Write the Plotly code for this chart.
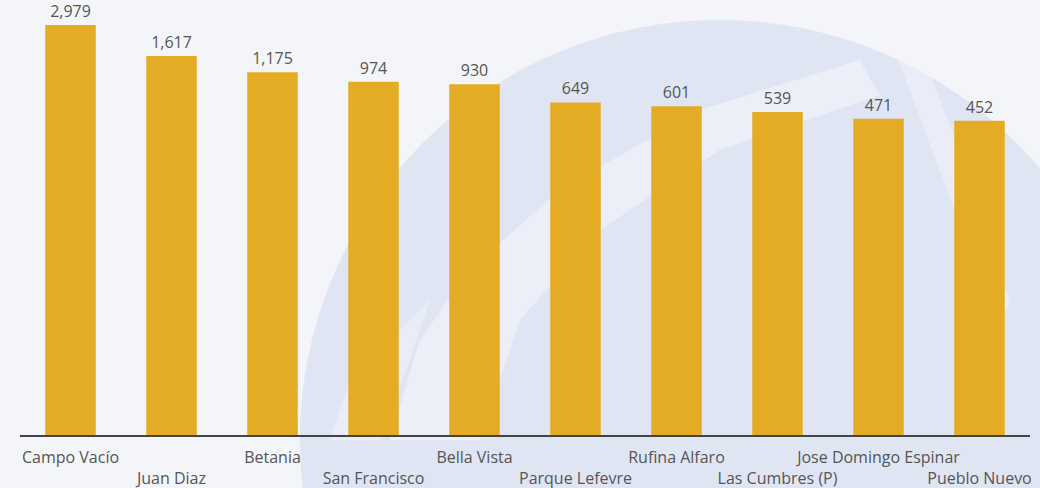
import plotly.graph_objects as go

categories = ["Campo Vacío", "Juan Diaz", "Betania", "San Francisco", "Bella Vista",
              "Parque Lefevre", "Rufina Alfaro", "Las Cumbres (P)", "Jose Domingo Espinar",
              "Pueblo Nuevo"]
values = [2979, 1617, 1175, 974, 930, 649, 601, 539, 471, 452]
value_labels = [f"{v:,}" for v in values]
tick_labels = [c if i % 2 == 0 else "<br>" + c for i, c in enumerate(categories)]

BAR = "#E4AB24"
TXT = "#555555"
FONT = "Open Sans, Noto Sans, sans-serif"

fig = go.Figure()
fig.add_trace(go.Bar(
    x=categories, y=values,
    marker=dict(color=BAR, line=dict(width=0)),
    text=value_labels, textposition="outside", cliponaxis=False,
    textfont=dict(size=16, color=TXT, family=FONT),
    hoverinfo="x+y",
))

# faint watermark-like background decoration (pixel -> paper helpers)
def px(x):
    return (x - 20) / 1010.5

def py(y):
    return (435 - y) / 435

def path(points):
    return "M " + " L ".join(f"{px(a):.4f},{py(b):.4f}" for a, b in points) + " Z"

shapes = [
    dict(type="circle", xref="paper", yref="paper", layer="below",
         x0=px(300), x1=px(1140), y0=py(860), y1=py(20),
         fillcolor="rgba(200,211,240,0.45)", line=dict(width=0)),
    dict(type="path", xref="paper", yref="paper", layer="below",
         path=path([(390, 440), (420, 340), (470, 270), (560, 190), (700, 110), (860, 60),
                    (880, 95), (720, 150), (600, 230), (520, 320), (480, 440)]),
         fillcolor="rgba(246,247,250,0.55)", line=dict(width=0)),
    dict(type="path", xref="paper", yref="paper", layer="below",
         path=path([(895, 50), (940, 170), (1000, 330), (1010, 300), (960, 150), (925, 60)]),
         fillcolor="rgba(246,247,250,0.45)", line=dict(width=0)),
    dict(type="path", xref="paper", yref="paper", layer="below",
         path=path([(330, 440), (350, 380), (400, 330), (430, 300), (410, 360), (380, 440)]),
         fillcolor="rgba(246,247,250,0.45)", line=dict(width=0)),
]

fig.update_layout(
    width=1040, height=488,
    margin=dict(l=20, r=10, t=0, b=53),
    paper_bgcolor="#f4f5f8",
    plot_bgcolor="rgba(0,0,0,0)",
    bargap=0.5,
    showlegend=False,
    font=dict(family=FONT, color=TXT, size=16),
    shapes=shapes,
    xaxis=dict(
        tickmode="array", tickvals=categories, ticktext=tick_labels,
        tickangle=0, ticks="", showgrid=False, zeroline=False,
        showline=True, linecolor="#444444", linewidth=2,
        tickfont=dict(size=16, color=TXT, family=FONT),
        ticklabelstandoff=7,
    ),
    yaxis=dict(type="log", range=[-0.03, 3.688], visible=False, showgrid=False),
)

fig.write_html("out.html", config={"displayModeBar": False},
               post_script="document.body.style.margin='0';document.body.style.background='#f4f5f8';")
